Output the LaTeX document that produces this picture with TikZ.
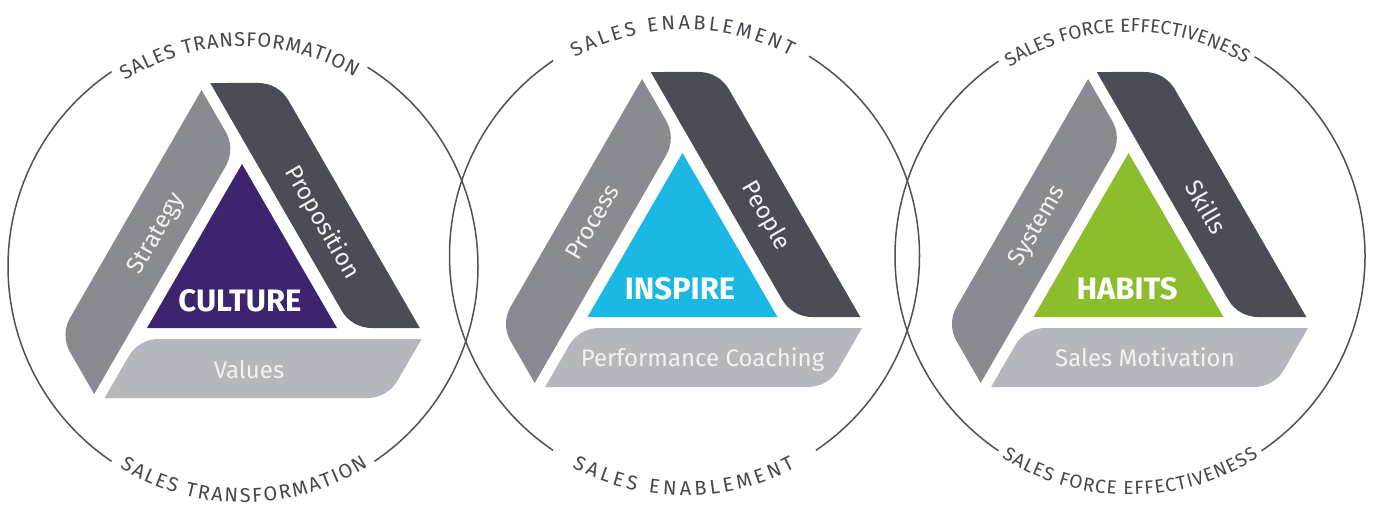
\documentclass[tikz,border=0pt]{standalone}
\usepackage{fontspec}
\setmainfont{Fira Sans}
\usetikzlibrary{calc,decorations.text}

\definecolor{bandmid}{HTML}{8A8B90}
\definecolor{banddark}{HTML}{4A4D54}
\definecolor{bandlight}{HTML}{B6B7BC}
\definecolor{culture}{HTML}{3C256E}
\definecolor{inspire}{HTML}{1BB8E3}
\definecolor{habits}{HTML}{8CBD2D}
\definecolor{ringline}{HTML}{505058}
\definecolor{ringink}{HTML}{46464E}
\definecolor{labelink}{HTML}{F2F2F4}

\newcommand\ringfontA{\fontsize{20}{24}\selectfont}
\newcommand\ringfontB{\fontsize{19}{23}\selectfont}

% one band of the pinwheel, lying along the bottom side of a triangle centred at the origin;
% the two obtuse corners are rounded, the two acute ones stay sharp
\newcommand\band[2]{%
  \fill[#1, rotate=#2] (-137.4,-126) -- (-113.35,-84.32)
    .. controls (-107.15,-73.58) and (-95.75,-67) .. (-83.35,-67)
    -- (179.56,-67) -- (155.5,-108.68)
    .. controls (149.3,-119.42) and (137.9,-126) .. (125.5,-126) -- cycle;}

% three bands round a coloured core triangle
\newcommand\triad[2]{%
  \begin{scope}[shift={(#1)}]
    \band{bandlight}{0}
    \band{bandmid}{-120}
    \band{banddark}{120}
    \fill[#2] (-95,-56) -- (95,-56) -- (0,108) -- cycle;
  \end{scope}}

% circle outline with gaps at top and bottom
\newcommand\ring[1]{%
  \draw[ringarc] ($(#1)+(124:235)$) arc[start angle=124, end angle=236, radius=235];
  \draw[ringarc] ($(#1)+(-56:235)$) arc[start angle=-56, end angle=58, radius=235];}

% lettering set along an arc: centre, radius, start angle, end angle, font, text
\newcommand\arclabel[6]{%
  \path[decorate, decoration={text along path, text={|#5|#6},
        text align={fit to path}, text color=ringink}]
    ($(#1)+(#3:#2)$) arc[start angle=#3, end angle=#4, radius=#2];}

\begin{document}
\begin{tikzpicture}[x=1pt, y=1pt,
  ringarc/.style={draw=ringline, line width=1.5pt},
  bandlabel/.style={font=\fontsize{24}{24}\selectfont, text=labelink,
    inner sep=0pt, text height=16.5pt, text depth=0pt},
  corelabel/.style={font=\bfseries\fontsize{31}{31}\selectfont, text=white,
    inner sep=0pt, text height=21.5pt, text depth=0pt}]
\useasboundingbox (0,0) rectangle (1373,-507);
\fill[white] (0,0) rectangle (1373,-507);

% circle centres and triangle centres
\coordinate (C1) at (243,-266.5);
\coordinate (C2) at (684.5,-255.5);
\coordinate (C3) at (1130,-256);
\coordinate (O1) at (242,-272);
\coordinate (O2) at (682.5,-261);
\coordinate (O3) at (1128.5,-261);

\ring{C1}
\ring{C2}
\ring{C3}

\arclabel{C1}{220}{122.5}{59.5}{\ringfontA}{SALES TRANSFORMATION}
\arclabel{C1}{236}{238.5}{302}{\ringfontA}{SALES TRANSFORMATION}
\arclabel{C2}{226}{119}{62}{\ringfontA}{SALES ENABLEMENT}
\arclabel{C2}{240}{242}{297.5}{\ringfontA}{SALES ENABLEMENT}
\arclabel{C3}{224}{122.5}{59}{\ringfontB}{SALES FORCE EFFECTIVENESS}
\arclabel{C3}{239}{237.5}{302.5}{\ringfontB}{SALES FORCE EFFECTIVENESS}

\triad{O1}{culture}
\triad{O2}{inspire}
\triad{O3}{habits}

% first triangle
\node[bandlabel, rotate=60] (strategy) at (155,-233) {Strategy};
\node[bandlabel, rotate=-60] (proposition) at (323,-222) {Proposition};
\node[bandlabel] (values) at (249,-370) {Values};
\node[corelabel] (culturelabel) at (240,-301) {CULTURE};

% second triangle
\node[bandlabel, rotate=60] (process) at (592,-222) {Process};
\node[bandlabel, rotate=-60] (people) at (767,-215) {People};
\node[bandlabel] (coaching) at (702.5,-358.5) {Performance Coaching};
\node[corelabel] (inspirelabel) at (680,-288.5) {INSPIRE};

% third triangle
\node[bandlabel, rotate=60] (systems) at (1036,-225) {Systems};
\node[bandlabel, rotate=-60] (skills) at (1205.5,-207.5) {Skills};
\node[bandlabel] (motivation) at (1145,-358.5) {Sales Motivation};
\node[corelabel] (habitslabel) at (1127,-288.5) {HABITS};
\end{tikzpicture}
\end{document}
